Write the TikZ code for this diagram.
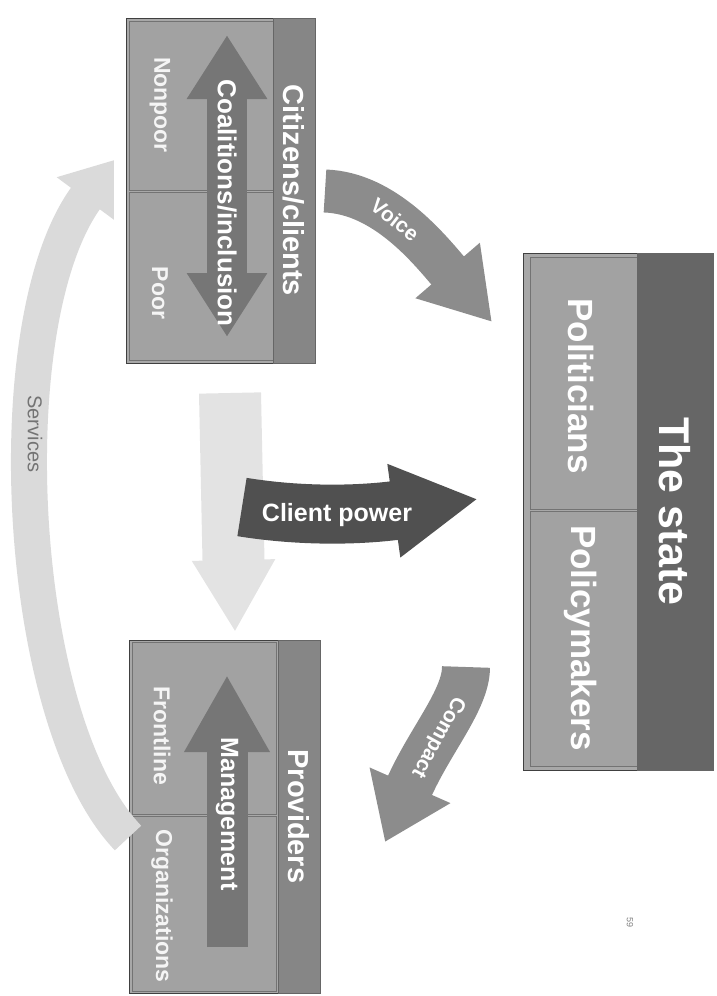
\documentclass[tikz,border=0pt]{standalone}
\usepackage{fontspec}
\setmainfont{Liberation Sans}
\usetikzlibrary{arrows.meta}
\definecolor{panelgray}{HTML}{A8A8A8}
\definecolor{subgray}{HTML}{A2A2A2}
\definecolor{headgray}{HTML}{868686}
\definecolor{stategray}{HTML}{666666}
\definecolor{arrowgray}{HTML}{767676}
\definecolor{flowgray}{HTML}{8C8C8C}
\definecolor{powergray}{HTML}{505050}
\definecolor{ghostgray}{HTML}{E3E3E3}
\definecolor{servgray}{HTML}{DADADA}

\begin{document}
\begin{tikzpicture}[x=1pt, y=-1pt,
	box/.style={draw=black!75, fill=panelgray, line width=0.9pt, inner sep=0pt},
	subbox/.style={draw=black!55, fill=subgray, line width=0.7pt, rotate=-90, inner sep=0pt},
	headbox/.style={draw=black!60, fill=headgray, rotate=-90, inner sep=0pt, text=white, font=\bfseries\fontsize{29}{30}\selectfont},
	lbl/.style={rotate=-90, text=white!92!gray, font=\bfseries\fontsize{23}{24}\selectfont},
	bigtext/.style={rotate=-90, text=white, font=\bfseries\fontsize{35}{36}\selectfont},
	intext/.style={text=white, font=\bfseries\fontsize{25}{26}\selectfont},
	flowtext/.style={text=white, font=\bfseries\fontsize{21}{22}\selectfont}]
	\useasboundingbox (0,0) rectangle (716,996);

	% the three boxes
	\node[box, minimum width=189, minimum height=345] (citizens) at (220.5,190.5) {};
	\node[subbox, minimum width=169, minimum height=144] (nonpoor) at (201,105.5) {};
	\node[subbox, minimum width=168, minimum height=144] (poor) at (201,276) {};
	\node[headbox, minimum width=345, minimum height=42] (citizenshead) at (294,190.5) {Citizens/clients};

	\node[box, minimum width=191, minimum height=353] (providers) at (224.5,816.5) {};
	\node[subbox, minimum width=172, minimum height=144] (frontline) at (204,728) {};
	\node[subbox, minimum width=175, minimum height=144] (organizations) at (204,903.5) {};
	\node[headbox, minimum width=353, minimum height=42] (providershead) at (299,816.5) {Providers};

	\node[box, minimum width=190, minimum height=517] (state) at (618,511.5) {};
	\node[subbox, minimum width=252, minimum height=107] (politicians) at (583.5,383) {};
	\node[subbox, minimum width=255, minimum height=107] (policymakers) at (583.5,638.5) {};
	\node[headbox, fill=stategray, minimum width=517, minimum height=76, font=\bfseries\fontsize{43}{44}\selectfont] (statehead) at (675,511.5) {The state};

	% labels in the panels
	\node[lbl] (nonpoorlbl) at (160,105) {Nonpoor};
	\node[lbl] (poorlbl) at (160,293) {Poor};
	\node[lbl] (frontlinelbl) at (162,736) {Frontline};
	\node[lbl] (organizationslbl) at (162,906) {Organizations};
	\node[bigtext] (politicianslbl) at (581,386) {Politicians};
	\node[bigtext] (policymakerslbl) at (581,638) {Policymakers};

	% arrow ends
	\coordinate (coaltop) at (227,35);
	\coordinate (coalbot) at (227,337);
	\coordinate (mgmttail) at (227,947);
	\coordinate (mgmttip) at (227,675);
	\coordinate (voicetail) at (325,191);
	\coordinate (voicetip) at (492,322);
	\coordinate (compacttail) at (466,667);
	\coordinate (compacttip) at (385,842);
	\coordinate (ghosttail) at (230,393);
	\coordinate (ghosttip) at (235,632);
	\coordinate (powertail) at (242,507);
	\coordinate (powertip) at (478,499);
	\coordinate (servtail) at (128,838);
	\coordinate (servtip) at (114,160);

	% arrows inside the boxes
	\draw[arrowgray, line width=40pt, {Triangle[width=76pt,length=64pt]}-{Triangle[width=76pt,length=64pt]}] (coaltop) -- (coalbot);
	\node[intext, rotate=-90, font=\bfseries\fontsize{26}{27}\selectfont] (coallbl) at (227,203) {Coalitions/inclusion};
	\draw[arrowgray, line width=41pt, -{Triangle[width=80pt,length=77pt]}] (mgmttail) -- (mgmttip);
	\node[intext, rotate=-90] (mgmtlbl) at (227,814) {Management};

	% arrows between the boxes
	\draw[servgray, line width=36pt, -{Triangle[width=68pt,length=48pt]}] (servtail) .. controls (15,720) and (-5,320) .. (servtip)
		node[pos=0.6, rotate=-90, text=black!55, font=\fontsize{20}{21}\selectfont] {Services};
	\draw[ghostgray, line width=62pt, -{Triangle[width=78pt,length=72pt]}] (ghosttail) -- (ghosttip);
	\draw[powergray, line width=59pt, -{Triangle[width=88pt,length=85pt]}] (powertail) .. controls (310,518) and (370,514) .. (powertip);
	\node[intext] (powerlbl) at (337,515) {Client power};
	\draw[flowgray, line width=43pt, -{Triangle[width=80pt,length=68pt]}] (voicetail) .. controls (385,193) and (430,250) .. (voicetip)
		node[pos=0.42, sloped, flowtext] {Voice};
	\draw[flowgray, line width=48pt, -{Triangle[width=84pt,length=62pt]}] (compacttail) .. controls (466,700) and (430,740) .. (compacttip)
		node[pos=0.55, sloped, allow upside down, flowtext] {Compact};

	\node[rotate=-90, text=black!50, font=\fontsize{9}{10}\selectfont] (pagenum) at (630,922) {59};
\end{tikzpicture}
\end{document}
